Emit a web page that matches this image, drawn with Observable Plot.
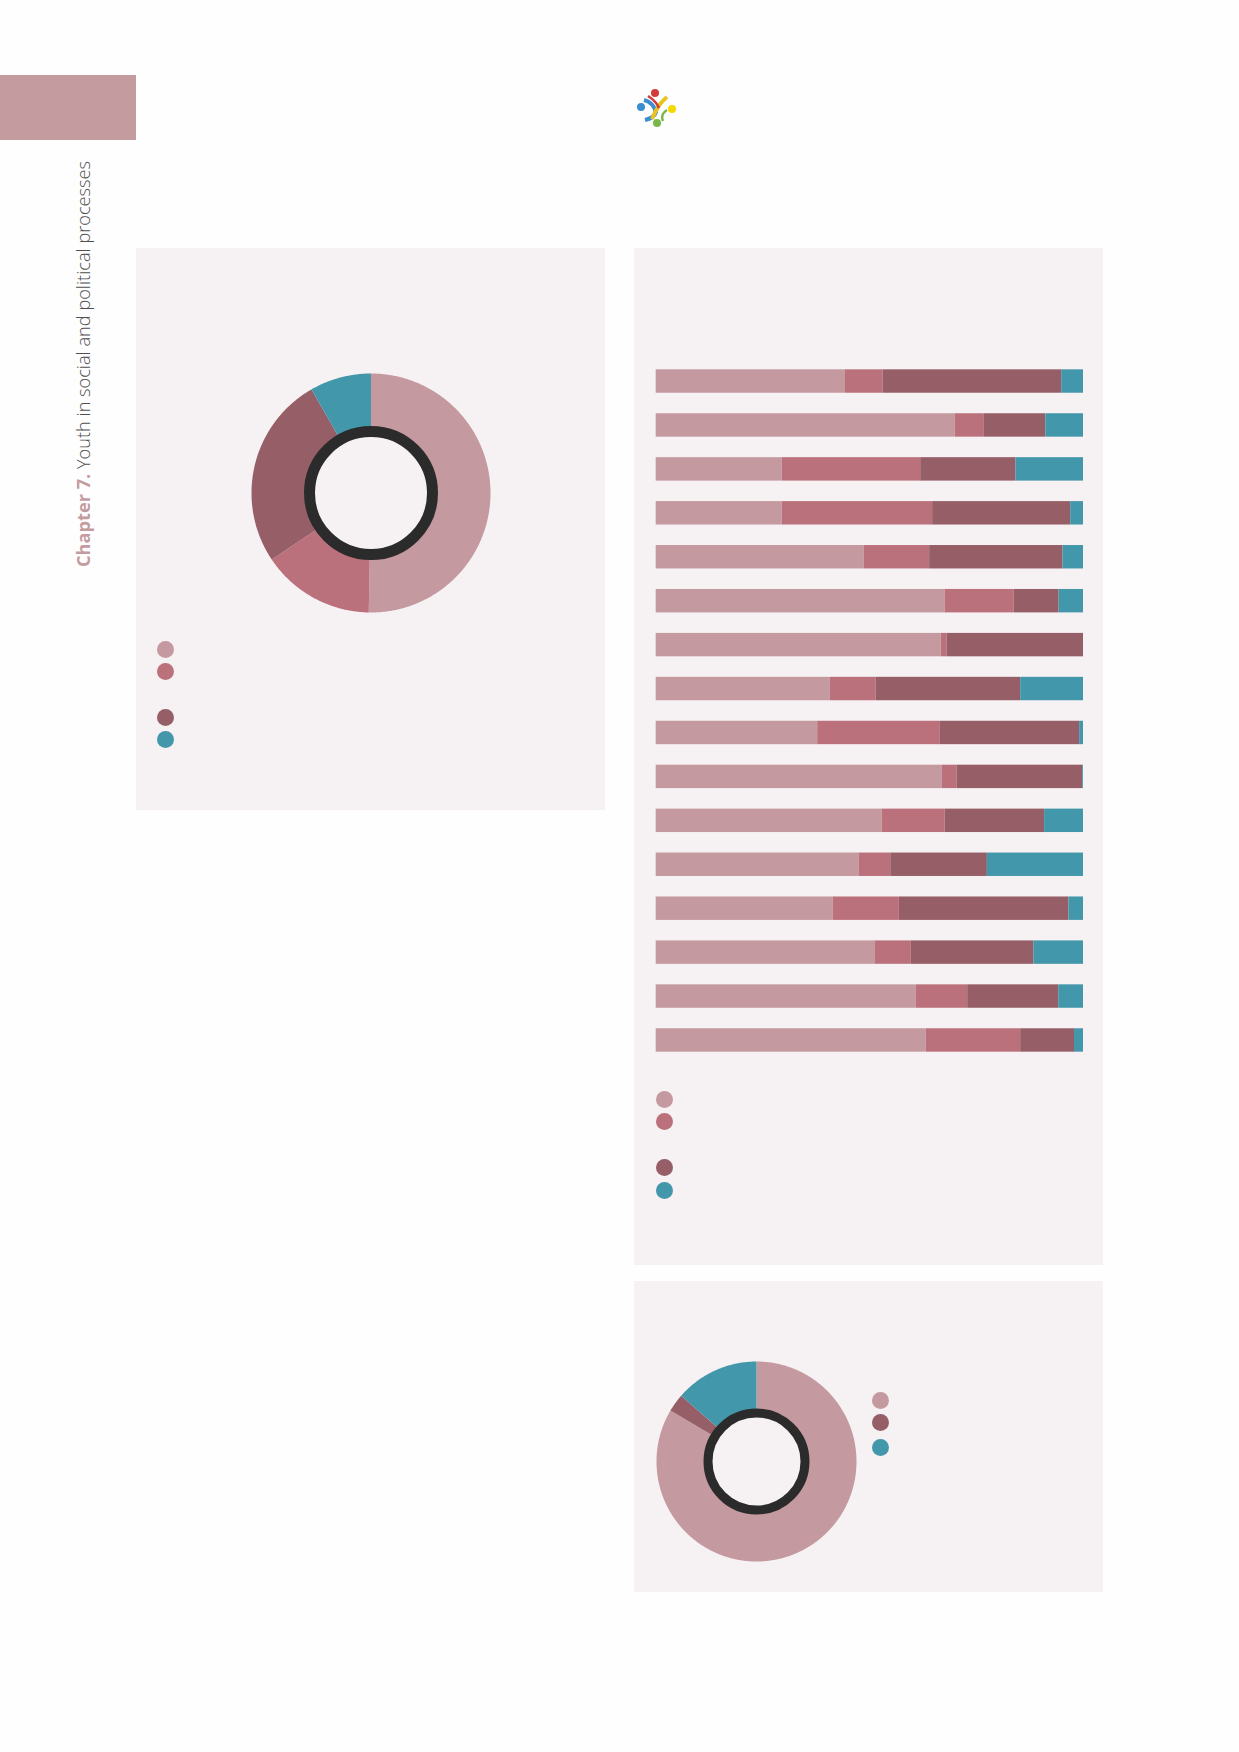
<!DOCTYPE html>
<html>
<head>
<meta charset="utf-8">
<script src="https://cdn.jsdelivr.net/npm/d3@7"></script>
<script src="https://cdn.jsdelivr.net/npm/@observablehq/plot@0.6"></script>
<style>
html, body { margin: 0; padding: 0; background: #ffffff; }
#page { position: relative; width: 1239px; height: 1752px; background: #fefefe; overflow: hidden; font-family: "Open Sans", sans-serif; }
.panel { position: absolute; background: #f6f1f3; }
.abs { position: absolute; }
.ldot { position: absolute; width: 17px; height: 17px; border-radius: 50%; }
#sidetext { position: absolute; left: 74px; top: 567px; transform: rotate(-90deg); transform-origin: 0 0; white-space: nowrap; font-size: 18.2px; line-height: 1; color: #4f4f4f; font-weight: 300; }
#sidetext b { color: #c49ca0; font-weight: 700; }
</style>
</head>
<body>
<div id="page">
  <div class="abs" style="left:0;top:75px;width:136px;height:65px;background:#c49ca0;"></div>
  <div id="sidetext"><b>Chapter 7.</b> Youth in social and political processes</div>
  <svg class="abs" style="left:636px;top:88px;" width="40" height="40" viewBox="0 0 40 40">
    <path d="M8 12 Q17 14 20 24 Q18 30 9 32" fill="none" stroke="#3a8fd0" stroke-width="4"/>
    <path d="M31 9 Q22 16 16 31" fill="none" stroke="#e8c420" stroke-width="4"/>
    <path d="M12 8 Q20 13 23 20" fill="none" stroke="#d43a3a" stroke-width="2.5"/>
    <path d="M27 33 Q24 26 31 22" fill="none" stroke="#7ab648" stroke-width="2.5"/>
    <circle cx="19" cy="5" r="4" fill="#d43a3a"/>
    <circle cx="36" cy="21" r="4" fill="#f5d800"/>
    <circle cx="5" cy="19" r="4" fill="#3a8fd0"/>
    <circle cx="21" cy="35" r="4" fill="#7ab648"/>
  </svg>
  <div class="panel" style="left:136px;top:248px;width:469px;height:562px;"></div>
  <div class="panel" style="left:634px;top:248px;width:469px;height:1017px;"></div>
  <div class="panel" style="left:634px;top:1281px;width:469px;height:311px;"></div>
  <div id="donut1" class="abs"></div>
  <div id="bars" class="abs"></div>
  <div id="donut2" class="abs"></div>
  <div id="legends"></div>
</div>
<script>
// ---- data ----
const seriesNames = ["Category 1", "Category 2", "Category 3", "Category 4"];
const seriesColors = ["#c4999f", "#bb717c", "#965e66", "#4397aa"];

const donut1Categories = ["Category 1", "Category 2", "Category 3", "Category 4"];
const donut1Values = [50.3, 15.3, 26.1, 8.3];

const barRows = ["Row 1", "Row 2", "Row 3", "Row 4", "Row 5", "Row 6", "Row 7", "Row 8",
                 "Row 9", "Row 10", "Row 11", "Row 12", "Row 13", "Row 14", "Row 15", "Row 16"];
const barCat1 = [44.3, 70.0, 29.5, 29.5, 48.7, 67.6, 66.7, 40.7, 37.8, 66.9, 52.9, 47.5, 41.4, 51.3, 60.8, 63.2];
const barCat2 = [8.8, 6.8, 32.4, 35.2, 15.3, 16.2, 1.4, 10.8, 28.7, 3.5, 14.7, 7.4, 15.5, 8.4, 12.1, 22.1];
const barCat3 = [41.8, 14.4, 22.3, 32.3, 31.2, 10.5, 31.9, 33.8, 32.6, 29.4, 23.3, 22.6, 39.7, 28.7, 21.3, 12.6];
const barCat4 = [5.1, 8.8, 15.8, 3.0, 4.8, 5.7, 0.0, 14.7, 0.9, 0.2, 9.1, 22.5, 3.4, 11.6, 5.8, 2.1];

const donut2Categories = ["Category 1", "Category 3", "Category 4"];
const donut2Values = [83.5, 2.9, 13.6];

const colorOf = Object.fromEntries(seriesNames.map((s, i) => [s, seriesColors[i]]));
const panelBg = "#f6f1f3";

// ---- donut helper ----
function donut(categories, values, R, r0, ringR, ringW) {
  const pie = d3.pie().sort(null).value(d => d)(values);
  const size = 2 * R + 4;
  const marks = [];
  pie.forEach((s, i) => {
    const pts = [];
    const n = Math.max(2, Math.ceil((s.endAngle - s.startAngle) / (Math.PI / 360)));
    for (let k = 0; k <= n; k++) {
      const a = s.startAngle + (s.endAngle - s.startAngle) * k / n;
      pts.push({x: R * Math.sin(a), y: R * Math.cos(a)});
    }
    for (let k = n; k >= 0; k--) {
      const a = s.startAngle + (s.endAngle - s.startAngle) * k / n;
      pts.push({x: r0 * Math.sin(a), y: r0 * Math.cos(a)});
    }
    marks.push(Plot.line(pts, {x: "x", y: "y", fill: colorOf[categories[i]], stroke: "none", curve: "linear-closed"}));
  });
  marks.push(Plot.dot([{x: 0, y: 0}], {x: "x", y: "y", r: ringR, stroke: "#2b2b2b", strokeWidth: ringW, fill: panelBg}));
  return Plot.plot({
    width: size, height: size, margin: 0,
    x: {domain: [-size / 2, size / 2], axis: null},
    y: {domain: [-size / 2, size / 2], axis: null},
    style: {background: "transparent", overflow: "visible"},
    marks
  });
}

// donut 1: center (370, 492)
{
  const R = 119.5;
  const el = donut(donut1Categories, donut1Values, R, 58, 61.5, 11);
  const host = document.getElementById("donut1");
  const size = 2 * R + 4;
  host.style.left = (370 - size / 2) + "px";
  host.style.top = (492 - size / 2) + "px";
  host.appendChild(el);
}

// donut 2: center (755.5, 1460.5)
{
  const R = 100;
  const el = donut(donut2Categories, donut2Values, R, 46, 48.5, 9);
  const host = document.getElementById("donut2");
  const size = 2 * R + 4;
  host.style.left = (755.5 - size / 2) + "px";
  host.style.top = (1460.5 - size / 2) + "px";
  host.appendChild(el);
}

// stacked bars
{
  const cols = [barCat1, barCat2, barCat3, barCat4];
  const barData = [];
  barRows.forEach((row, i) => {
    seriesNames.forEach((s, j) => barData.push({row, series: s, value: cols[j][i]}));
  });
  const el = Plot.plot({
    width: 469, height: 740,
    marginLeft: 21.7, marginRight: 20, marginTop: 8.8, marginBottom: 7.8,
    x: {domain: [0, 100], axis: null},
    y: {domain: barRows, padding: 0.467, round: false, axis: null},
    color: {domain: seriesNames, range: seriesColors},
    style: {background: "transparent"},
    marks: [
      Plot.barX(barData, {x: "value", y: "row", fill: "series"})
    ]
  });
  const host = document.getElementById("bars");
  host.style.left = "634px";
  host.style.top = "340px";
  host.appendChild(el);
}

// legends (dots only, as in the reference)
{
  const legends = [
    {x: 165, ys: [649, 671, 717, 739], cats: ["Category 1", "Category 2", "Category 3", "Category 4"]},
    {x: 664, ys: [1099, 1121, 1167, 1190], cats: ["Category 1", "Category 2", "Category 3", "Category 4"]},
    {x: 880, ys: [1400, 1422, 1447], cats: donut2Categories}
  ];
  const host = document.getElementById("legends");
  legends.forEach(l => {
    l.cats.forEach((c, i) => {
      const d = document.createElement("div");
      d.className = "ldot";
      d.style.left = (l.x - 8.5) + "px";
      d.style.top = (l.ys[i] - 8.5) + "px";
      d.style.background = colorOf[c];
      host.appendChild(d);
    });
  });
}
</script>
</body>
</html>
